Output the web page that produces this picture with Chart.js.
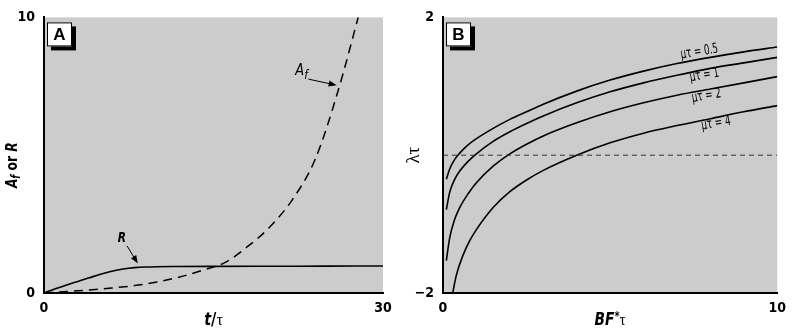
<!DOCTYPE html>
<html>
<head>
<meta charset="utf-8">
<script src="https://cdn.jsdelivr.net/npm/chart.js@4.4.1/dist/chart.umd.min.js"></script>
<style>
  html, body { margin: 0; padding: 0; background: #fff; }
  #wrap { position: relative; width: 793px; height: 333px; }
  #cA { position: absolute; left: 0; top: 0; }
  #cB { position: absolute; left: 400px; top: 0; }
</style>
</head>
<body>
<div id="wrap">
  <canvas id="cA" width="400" height="333"></canvas>
  <canvas id="cB" width="393" height="333"></canvas>
</div>
<script>
// Panel A: t/tau on x, A_f and R on y
const rTime   = [0, 1, 2, 3, 4, 5, 6, 7, 8, 9, 10, 12, 15, 20, 25, 30];
const rValues = [0, 0.15, 0.29, 0.42, 0.55, 0.68, 0.79, 0.87, 0.92, 0.945, 0.955, 0.96, 0.965, 0.97, 0.975, 0.98];
const afTime   = [0, 2, 4, 6, 8, 10, 12, 14, 16, 18, 20, 22, 24, 26, 28];
const afValues = [0, 0.05, 0.11, 0.18, 0.27, 0.40, 0.58, 0.82, 1.10, 1.68, 2.4, 3.4, 4.85, 7.3, 10.3];
const ticksA_x = [0, 30];
const ticksA_y = [0, 10];

// Panel B: BF*tau on x, lambda*tau on y, one curve per mu*tau
const bfTau    = [0.1, 0.2, 0.35, 0.5, 0.75, 1, 1.5, 2, 2.5, 3, 4, 5, 6, 7, 8, 9, 10];
const lamMu05  = [-0.35, -0.20, -0.06, 0.03, 0.15, 0.24, 0.39, 0.52, 0.63, 0.74, 0.93, 1.09, 1.22, 1.33, 1.42, 1.50, 1.57];
const lamMu1   = [-0.79, -0.54, -0.35, -0.23, -0.09, 0.02, 0.20, 0.34, 0.46, 0.57, 0.76, 0.92, 1.05, 1.16, 1.26, 1.34, 1.42];
const lamMu2   = [-1.53, -1.20, -0.93, -0.76, -0.56, -0.40, -0.16, 0.02, 0.16, 0.28, 0.47, 0.63, 0.76, 0.87, 0.96, 1.05, 1.14];
const bfTauMu4 = [0.29, 0.4, 0.6, 0.8, 1, 1.5, 2, 2.5, 3, 4, 5, 6, 7, 8, 9, 10];
const lamMu4   = [-2, -1.74, -1.45, -1.24, -1.08, -0.76, -0.53, -0.36, -0.22, 0.0, 0.18, 0.32, 0.43, 0.53, 0.63, 0.72];
const muLabels = ['\u03bc\u03c4 = 0.5', '\u03bc\u03c4 = 1', '\u03bc\u03c4 = 2', '\u03bc\u03c4 = 4'];
const ticksB_x = [0, 10];
const ticksB_y = [-2, 2];

const pts = (xs, ys) => xs.map((x, i) => ({ x: x, y: ys[i] }));
const NARROW = '"Liberation Sans Narrow", "DejaVu Sans Condensed", "Liberation Sans", sans-serif';

// grey plot background
const greyBack = {
  id: 'greyBack',
  beforeDraw(chart) {
    const { ctx, chartArea: a } = chart;
    ctx.save();
    ctx.fillStyle = '#cccccc';
    ctx.fillRect(a.left, a.top, a.right - a.left, a.bottom - a.top);
    ctx.restore();
  }
};

function panelBox(ctx, a, letter) {
  const x = a.left + 3, y = a.top + 5, w = 25, h = 24;
  ctx.save();
  ctx.fillStyle = '#000';
  ctx.fillRect(x + 4, y + 4, w, h);
  ctx.fillStyle = '#fff';
  ctx.fillRect(x, y, w, h);
  ctx.strokeStyle = '#000';
  ctx.lineWidth = 1;
  ctx.strokeRect(x + 0.5, y + 0.5, w - 1, h - 1);
  ctx.fillStyle = '#000';
  ctx.font = 'bold 17px "Liberation Sans", sans-serif';
  ctx.textAlign = 'center';
  ctx.textBaseline = 'middle';
  ctx.fillText(letter, x + w / 2, y + h / 2 + 1);
  ctx.restore();
}

// parts: [text, font, dy]; sx squeezes the text horizontally
function richText(ctx, parts, cx, cy, angle, sx) {
  ctx.save();
  ctx.translate(cx, cy);
  ctx.rotate(angle || 0);
  ctx.scale(sx || 1, 1);
  let total = 0;
  parts.forEach(p => { ctx.font = p[1]; total += ctx.measureText(p[0]).width; });
  let x = -total / 2;
  ctx.textAlign = 'left';
  ctx.textBaseline = 'middle';
  ctx.fillStyle = '#000';
  parts.forEach(p => {
    ctx.font = p[1];
    ctx.fillText(p[0], x, p[2] || 0);
    x += ctx.measureText(p[0]).width;
  });
  ctx.restore();
}

function arrow(ctx, x1, y1, x2, y2) {
  const ang = Math.atan2(y2 - y1, x2 - x1);
  ctx.save();
  ctx.strokeStyle = '#000';
  ctx.fillStyle = '#000';
  ctx.lineWidth = 1;
  ctx.beginPath();
  ctx.moveTo(x1, y1);
  ctx.lineTo(x2 - 5 * Math.cos(ang), y2 - 5 * Math.sin(ang));
  ctx.stroke();
  ctx.beginPath();
  ctx.moveTo(x2, y2);
  ctx.lineTo(x2 - 8 * Math.cos(ang) + 3 * Math.sin(ang), y2 - 8 * Math.sin(ang) - 3 * Math.cos(ang));
  ctx.lineTo(x2 - 8 * Math.cos(ang) - 3 * Math.sin(ang), y2 - 8 * Math.sin(ang) + 3 * Math.cos(ang));
  ctx.closePath();
  ctx.fill();
  ctx.restore();
}

const notesA = {
  id: 'notesA',
  afterDraw(chart) {
    const { ctx, chartArea: a, scales: { x, y } } = chart;
    panelBox(ctx, a, 'A');
    richText(ctx, [['R', 'bold italic 14px ' + NARROW]], x.getPixelForValue(6.9), y.getPixelForValue(1.99), 0, 0.85);
    arrow(ctx, x.getPixelForValue(7.35), y.getPixelForValue(1.71), x.getPixelForValue(8.3), y.getPixelForValue(1.07));
    richText(ctx, [['A', 'italic 16px ' + NARROW], ['f', 'italic 13px ' + NARROW, 4]],
      x.getPixelForValue(22.8), y.getPixelForValue(8.05), 0, 0.9);
    arrow(ctx, x.getPixelForValue(23.4), y.getPixelForValue(7.76), x.getPixelForValue(25.9), y.getPixelForValue(7.54));
    // axis titles
    richText(ctx, [['A', 'bold italic 16px ' + NARROW], ['f', 'bold italic 12px ' + NARROW, 4],
      [' or ', 'bold 16px ' + NARROW], ['R', 'bold italic 16px ' + NARROW]],
      13, (a.top + a.bottom) / 2 + 10, -Math.PI / 2, 0.85);
    richText(ctx, [['t', 'bold italic 17px ' + NARROW], ['/', 'bold 17px ' + NARROW],
      ['\u03c4', '17px "Liberation Serif", serif']], (a.left + a.right) / 2, 321, 0, 0.95);
  }
};

const notesB = {
  id: 'notesB',
  afterDraw(chart) {
    const { ctx, chartArea: a, scales: { x, y } } = chart;
    panelBox(ctx, a, 'B');
    const pos = [[7.67, 1.50], [7.82, 1.16], [7.88, 0.86], [8.17, 0.46]];
    muLabels.forEach((t, i) => {
      richText(ctx, [[t, '14px ' + NARROW]], x.getPixelForValue(pos[i][0]), y.getPixelForValue(pos[i][1]), -0.16, 0.7);
    });
    richText(ctx, [['\u03bb\u03c4', '19px "Liberation Serif", serif']], 14, (a.top + a.bottom) / 2, -Math.PI / 2);
    richText(ctx, [['BF', 'bold italic 17px ' + NARROW], ['*', 'bold 12px ' + NARROW, -4],
      ['\u03c4', '17px "Liberation Serif", serif']], (a.left + a.right) / 2, 321, 0, 0.9);
  }
};

function axis(min, max, ticks, isY, fitSize, fmt) {
  return {
    type: 'linear',
    min: min,
    max: max,
    afterBuildTicks: s => { s.ticks = ticks.map(v => ({ value: v })); },
    afterFit: s => { if (isY) s.width = fitSize; else s.height = fitSize; },
    grid: { display: false, drawTicks: false },
    border: { display: true, color: '#000', width: 2 },
    ticks: {
      color: '#000',
      padding: isY ? 9 : 7,
      maxRotation: 0,
      autoSkip: false,
      font: { family: NARROW, size: 14, weight: 'bold' },
      callback: fmt || (v => v)
    }
  };
}

const common = {
  responsive: false,
  animation: false,
  events: [],
  plugins: { legend: { display: false }, tooltip: { enabled: false } },
  elements: { point: { radius: 0 } }
};

new Chart(document.getElementById('cA'), {
  type: 'scatter',
  data: {
    datasets: [
      { data: pts(rTime, rValues), showLine: true, borderColor: '#000', borderWidth: 1.6, cubicInterpolationMode: 'monotone' },
      { data: pts(afTime, afValues), showLine: true, borderColor: '#000', borderWidth: 1.5, borderDash: [9, 6], cubicInterpolationMode: 'monotone' }
    ]
  },
  options: Object.assign({}, common, {
    layout: { padding: { top: 12, right: 17, left: 0, bottom: 0 } },
    scales: {
      x: axis(0, 30, ticksA_x, false, 40),
      y: axis(0, 10, ticksA_y, true, 44)
    }
  }),
  plugins: [greyBack, notesA]
});

new Chart(document.getElementById('cB'), {
  type: 'scatter',
  data: {
    datasets: [
      { data: pts(ticksB_x, [0, 0]), showLine: true, borderColor: '#333', borderWidth: 1, borderDash: [5, 4] },
      { data: pts(bfTau, lamMu05), showLine: true, borderColor: '#000', borderWidth: 1.6, cubicInterpolationMode: 'monotone' },
      { data: pts(bfTau, lamMu1), showLine: true, borderColor: '#000', borderWidth: 1.6, cubicInterpolationMode: 'monotone' },
      { data: pts(bfTau, lamMu2), showLine: true, borderColor: '#000', borderWidth: 1.6, cubicInterpolationMode: 'monotone' },
      { data: pts(bfTauMu4, lamMu4), showLine: true, borderColor: '#000', borderWidth: 1.6, cubicInterpolationMode: 'monotone' }
    ]
  },
  options: Object.assign({}, common, {
    layout: { padding: { top: 12, right: 11, left: 0, bottom: 0 } },
    scales: {
      x: axis(0, 10, ticksB_x, false, 40),
      y: axis(-2, 2, ticksB_y, true, 43, v => (v < 0 ? '\u2212' + Math.abs(v) : String(v)))
    }
  }),
  plugins: [greyBack, notesB]
});
</script>
</body>
</html>
